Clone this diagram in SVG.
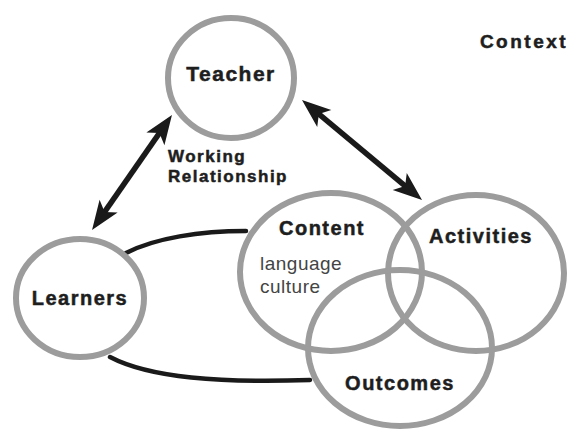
<svg xmlns="http://www.w3.org/2000/svg" width="573" height="430" viewBox="0 0 573 430">
<style>
.ring{fill:none;stroke:#9c9c9c;stroke-width:6}
.lbl{font-family:"Liberation Sans",Arial,sans-serif;font-weight:bold;fill:#1e1e1e;stroke:#1e1e1e;stroke-width:0.5;text-anchor:middle;letter-spacing:1.5px}
.sub{font-family:"Liberation Sans",Arial,sans-serif;fill:#444;font-size:19px;letter-spacing:0.5px}
.link{fill:none;stroke:#1a1a1a;stroke-width:4.5;stroke-linecap:round}
.arr{fill:none;stroke:#1a1a1a;stroke-width:5.5}
</style>
<defs>
<marker id="ah" markerUnits="userSpaceOnUse" markerWidth="40" markerHeight="30" viewBox="-20 -15 40 30" refX="0" refY="0" orient="auto-start-reverse">
<path d="M12,0 L-17,-11 L-10,0 L-17,11 Z" fill="#1a1a1a"/>
</marker>
</defs>
<rect width="573" height="430" fill="#fff"/>
<g id="connectors">
<path class="link" d="M126,253 C155,238 200,231 246,231"/>
<path class="link" d="M110,357 C150,378 220,383 310,380"/>
<path class="arr" d="M98.9,220.1 L165.1,124.9" marker-start="url(#ah)" marker-end="url(#ah)"/>
<path class="arr" d="M311.2,107.7 L412.8,192.3" marker-start="url(#ah)" marker-end="url(#ah)"/>
</g>
<g id="teacher">
<ellipse class="ring" cx="231" cy="78" rx="63" ry="60"/>
<text class="lbl" x="231" y="81" font-size="21">Teacher</text>
</g>
<g id="learners">
<ellipse class="ring" cx="80" cy="298" rx="64" ry="59"/>
<text class="lbl" x="80" y="305" font-size="20">Learners</text>
</g>
<g id="content">
<ellipse class="ring" cx="331" cy="272" rx="91" ry="79"/>
<text class="lbl" x="322" y="235" font-size="20">Content</text>
<text class="sub" x="260" y="270">language</text>
<text class="sub" x="260" y="293">culture</text>
</g>
<g id="activities">
<ellipse class="ring" cx="476" cy="273" rx="88" ry="78"/>
<text class="lbl" x="481" y="243" font-size="20">Activities</text>
</g>
<g id="outcomes">
<ellipse class="ring" cx="400" cy="348" rx="92" ry="78"/>
<text class="lbl" x="400" y="390" font-size="20">Outcomes</text>
</g>
<g id="working-relationship">
<text class="lbl" x="168" y="162" font-size="17" style="text-anchor:start">Working</text>
<text class="lbl" x="168" y="182" font-size="17" style="text-anchor:start">Relationship</text>
</g>
<g id="context">
<text class="lbl" x="524" y="48" font-size="19" style="letter-spacing:2.5px">Context</text>
</g>
</svg>
